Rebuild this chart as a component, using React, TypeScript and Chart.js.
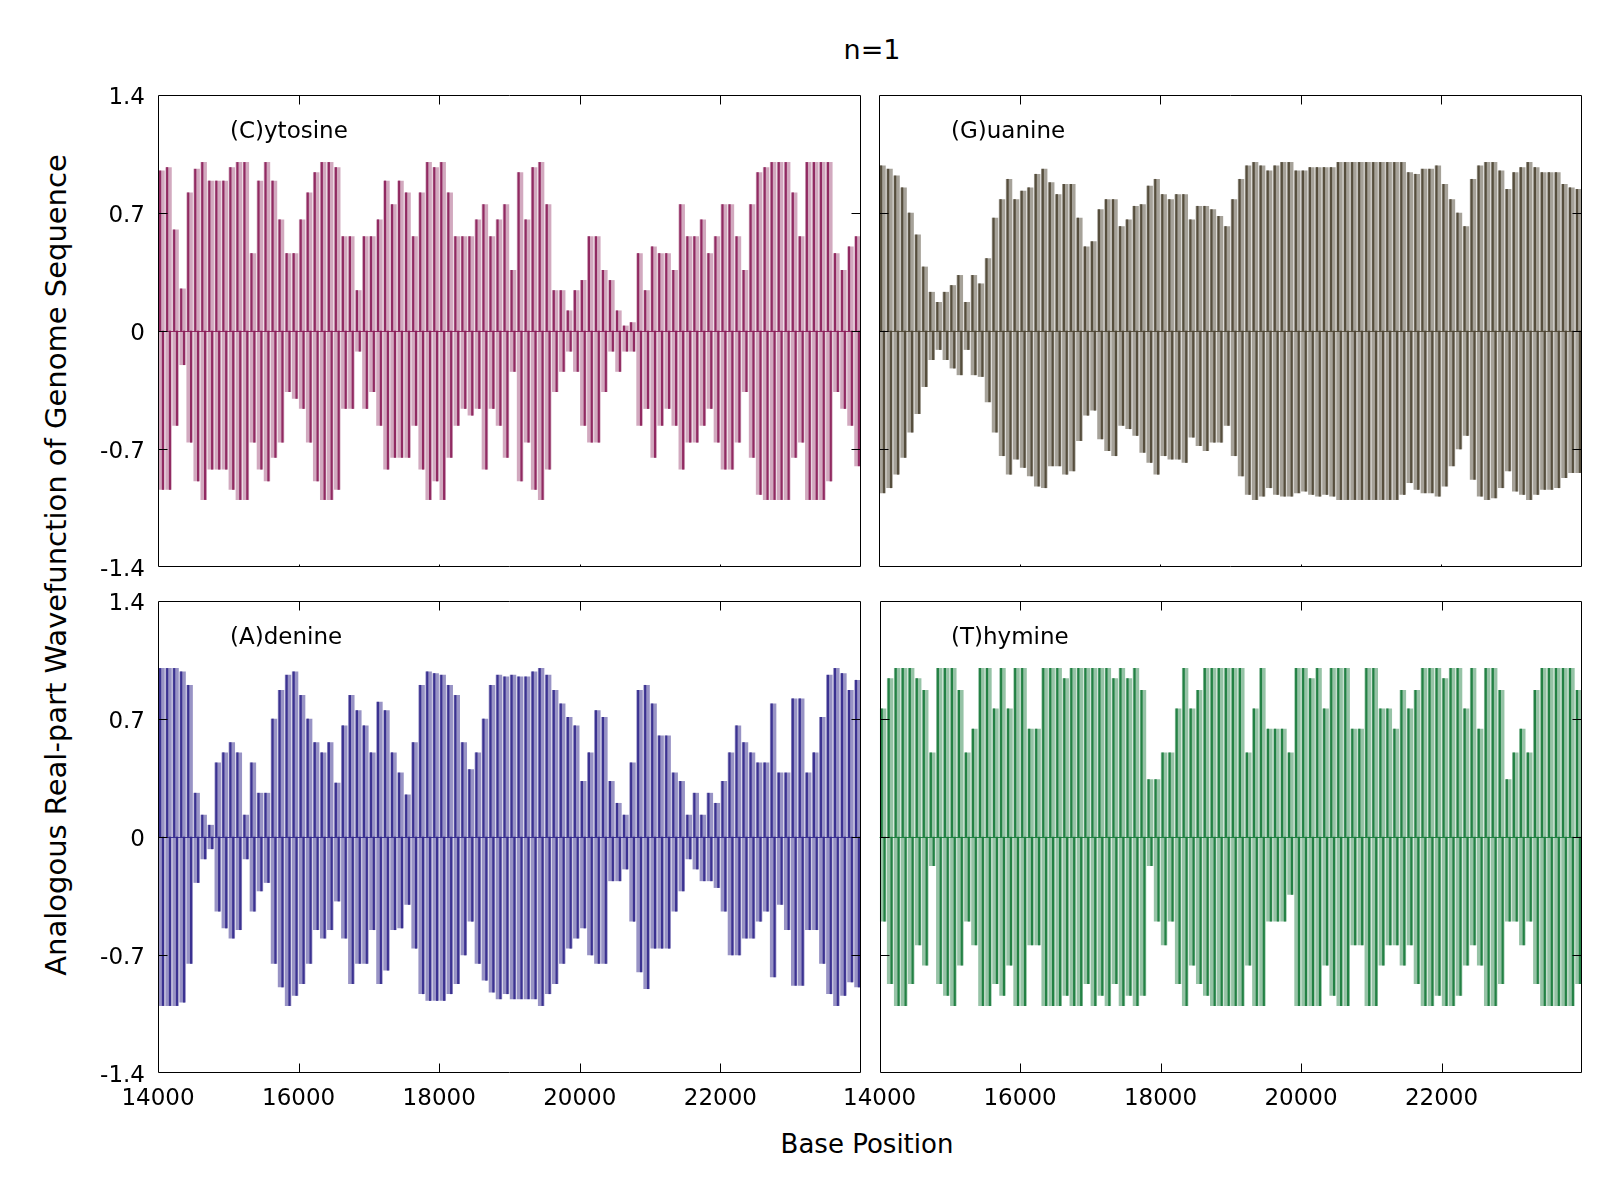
import { useEffect, useRef } from "react";
import { Chart, registerables } from "chart.js";

Chart.register(...registerables);

// one sample every 100 bp, starting at base 14000 (100 samples per panel)
const BASE_START = 14000;
const BASE_STEP = 100;
const X_MIN = 14000;
const X_MAX = 24000;

const xTickValues = [14000, 16000, 18000, 20000, 22000];
const yTickValues = [-1.4, -0.7, 0, 0.7, 1.4];

// upper / lower envelope of the impulses inside each 100 bp window
const cytosineHi = [
  0.95, 0.97, 0.6, 0.25, 0.82, 0.96, 1.0, 0.89, 0.89, 0.89,
  0.97, 1.0, 1.0, 0.46, 0.89, 1.0, 0.89, 0.66, 0.46, 0.46,
  0.66, 0.82, 0.94, 1.0, 1.0, 0.97, 0.56, 0.56, 0.24, 0.56,
  0.56, 0.66, 0.89, 0.75, 0.89, 0.82, 0.56, 0.82, 1.0, 0.97,
  1.0, 0.82, 0.56, 0.56, 0.56, 0.66, 0.75, 0.56, 0.66, 0.75,
  0.36, 0.94, 0.66, 0.97, 1.0, 0.75, 0.24, 0.24, 0.12, 0.24,
  0.3, 0.56, 0.56, 0.36, 0.3, 0.12, 0.03, 0.05, 0.46, 0.24,
  0.5, 0.46, 0.46, 0.36, 0.75, 0.56, 0.56, 0.66, 0.46, 0.56,
  0.75, 0.75, 0.56, 0.36, 0.75, 0.94, 0.97, 1.0, 1.0, 1.0,
  0.82, 0.56, 1.0, 1.0, 1.0, 1.0, 0.46, 0.36, 0.5, 0.56,
];
const cytosineLo = [
  -0.94, -0.94, -0.56, -0.2, -0.66, -0.89, -1.0, -0.82, -0.82, -0.82,
  -0.94, -1.0, -1.0, -0.66, -0.82, -0.89, -0.75, -0.66, -0.36, -0.4,
  -0.46, -0.66, -0.89, -1.0, -1.0, -0.94, -0.46, -0.46, -0.12, -0.46,
  -0.36, -0.56, -0.82, -0.75, -0.75, -0.75, -0.56, -0.82, -1.0, -0.89,
  -1.0, -0.75, -0.56, -0.46, -0.5, -0.46, -0.82, -0.46, -0.56, -0.75,
  -0.24, -0.89, -0.66, -0.94, -1.0, -0.82, -0.36, -0.24, -0.12, -0.24,
  -0.56, -0.66, -0.66, -0.36, -0.12, -0.24, -0.12, -0.12, -0.56, -0.46,
  -0.75, -0.56, -0.46, -0.56, -0.82, -0.66, -0.66, -0.56, -0.46, -0.66,
  -0.82, -0.82, -0.66, -0.36, -0.75, -0.97, -1.0, -1.0, -1.0, -1.0,
  -0.75, -0.66, -1.0, -1.0, -1.0, -0.89, -0.36, -0.46, -0.56, -0.8,
];

const guanineHi = [
  0.98, 0.96, 0.92, 0.85, 0.7, 0.57, 0.38, 0.23, 0.17, 0.23,
  0.27, 0.33, 0.17, 0.33, 0.28, 0.43, 0.67, 0.78, 0.9, 0.78,
  0.83, 0.85, 0.93, 0.96, 0.88, 0.81, 0.87, 0.87, 0.67, 0.5,
  0.53, 0.72, 0.78, 0.78, 0.62, 0.66, 0.74, 0.75, 0.86, 0.9,
  0.81, 0.78, 0.81, 0.81, 0.66, 0.74, 0.74, 0.72, 0.68, 0.62,
  0.78, 0.9, 0.98, 1.0, 0.98, 0.95, 0.98, 1.0, 1.0, 0.95,
  0.95, 0.97, 0.97, 0.97, 0.97, 1.0, 1.0, 1.0, 1.0, 1.0,
  1.0, 1.0, 1.0, 1.0, 1.0, 0.94, 0.93, 0.96, 0.96, 0.98,
  0.87, 0.78, 0.7, 0.62, 0.9, 0.98, 1.0, 1.0, 0.95, 0.84,
  0.94, 0.97, 1.0, 0.97, 0.94, 0.94, 0.94, 0.87, 0.85, 0.84,
];
const guanineLo = [
  -0.96, -0.93, -0.85, -0.75, -0.6, -0.49, -0.33, -0.17, -0.11, -0.17,
  -0.22, -0.26, -0.11, -0.26, -0.27, -0.42, -0.6, -0.74, -0.85, -0.76,
  -0.81, -0.86, -0.92, -0.93, -0.8, -0.8, -0.85, -0.83, -0.65, -0.5,
  -0.47, -0.64, -0.71, -0.74, -0.56, -0.58, -0.62, -0.72, -0.78, -0.85,
  -0.74, -0.76, -0.76, -0.78, -0.63, -0.68, -0.71, -0.66, -0.66, -0.56,
  -0.74, -0.86, -0.97, -1.0, -0.98, -0.93, -0.97, -0.98, -0.98, -0.96,
  -0.95, -0.97, -0.98, -0.97, -0.98, -1.0, -1.0, -1.0, -1.0, -1.0,
  -1.0, -1.0, -1.0, -1.0, -0.97, -0.9, -0.94, -0.96, -0.96, -0.98,
  -0.92, -0.8, -0.7, -0.62, -0.88, -0.98, -1.0, -0.99, -0.93, -0.83,
  -0.95, -0.97, -1.0, -0.97, -0.94, -0.94, -0.93, -0.87, -0.84, -0.84,
];

const adenineHi = [
  1.0, 1.0, 1.0, 0.98, 0.9, 0.26, 0.13, 0.07, 0.44, 0.5,
  0.56, 0.5, 0.13, 0.44, 0.26, 0.26, 0.7, 0.87, 0.96, 0.98,
  0.84, 0.7, 0.56, 0.5, 0.56, 0.32, 0.66, 0.84, 0.75, 0.66,
  0.5, 0.8, 0.75, 0.5, 0.38, 0.25, 0.56, 0.9, 0.98, 0.97,
  0.96, 0.9, 0.84, 0.56, 0.4, 0.5, 0.7, 0.9, 0.96, 0.95,
  0.96, 0.95, 0.95, 0.98, 1.0, 0.96, 0.87, 0.79, 0.71, 0.66,
  0.33, 0.5, 0.75, 0.71, 0.33, 0.2, 0.13, 0.44, 0.87, 0.9,
  0.79, 0.6, 0.6, 0.38, 0.33, 0.13, 0.26, 0.13, 0.26, 0.2,
  0.33, 0.5, 0.66, 0.56, 0.5, 0.44, 0.44, 0.79, 0.38, 0.38,
  0.82, 0.82, 0.38, 0.5, 0.71, 0.96, 1.0, 0.97, 0.87, 0.93,
];
const adenineLo = [
  -1.0, -1.0, -1.0, -0.98, -0.75, -0.27, -0.13, -0.07, -0.44, -0.54,
  -0.6, -0.55, -0.13, -0.44, -0.32, -0.27, -0.75, -0.89, -1.0, -0.94,
  -0.87, -0.75, -0.55, -0.6, -0.55, -0.38, -0.6, -0.87, -0.75, -0.75,
  -0.55, -0.87, -0.79, -0.55, -0.54, -0.4, -0.66, -0.93, -0.97, -0.97,
  -0.97, -0.93, -0.87, -0.7, -0.5, -0.75, -0.85, -0.92, -0.96, -0.93,
  -0.96, -0.96, -0.96, -0.96, -1.0, -0.93, -0.87, -0.75, -0.66, -0.6,
  -0.54, -0.7, -0.75, -0.75, -0.26, -0.26, -0.19, -0.5, -0.8, -0.9,
  -0.66, -0.66, -0.66, -0.44, -0.32, -0.13, -0.19, -0.26, -0.26, -0.3,
  -0.44, -0.7, -0.7, -0.6, -0.6, -0.5, -0.44, -0.83, -0.4, -0.55,
  -0.88, -0.88, -0.55, -0.55, -0.75, -0.93, -1.0, -0.94, -0.86, -0.89,
];

const thymineHi = [
  0.76, 0.94, 1.0, 1.0, 1.0, 0.94, 0.87, 0.5, 1.0, 1.0,
  1.0, 0.87, 0.5, 0.64, 1.0, 1.0, 0.76, 1.0, 0.76, 1.0,
  1.0, 0.64, 0.64, 1.0, 1.0, 1.0, 0.94, 1.0, 1.0, 1.0,
  1.0, 1.0, 1.0, 0.94, 1.0, 0.94, 1.0, 0.87, 0.34, 0.34,
  0.5, 0.5, 0.76, 1.0, 0.76, 0.87, 1.0, 1.0, 1.0, 1.0,
  1.0, 1.0, 0.5, 0.76, 1.0, 0.64, 0.64, 0.64, 0.5, 1.0,
  1.0, 0.94, 1.0, 0.76, 1.0, 1.0, 1.0, 0.64, 0.64, 1.0,
  1.0, 0.76, 0.76, 0.64, 0.87, 0.76, 0.87, 1.0, 1.0, 1.0,
  0.94, 1.0, 1.0, 0.76, 1.0, 0.64, 1.0, 1.0, 0.87, 0.34,
  0.5, 0.64, 0.5, 0.87, 1.0, 1.0, 1.0, 1.0, 1.0, 0.87,
];
const thymineLo = [
  -0.5, -0.87, -1.0, -1.0, -0.87, -0.64, -0.76, -0.17, -0.87, -0.94,
  -1.0, -0.76, -0.5, -0.64, -1.0, -1.0, -0.87, -0.94, -0.76, -1.0,
  -1.0, -0.64, -0.64, -1.0, -1.0, -1.0, -0.94, -1.0, -1.0, -0.87,
  -1.0, -0.94, -1.0, -0.87, -1.0, -0.94, -1.0, -0.94, -0.17, -0.5,
  -0.64, -0.5, -0.87, -1.0, -0.76, -0.87, -0.94, -1.0, -1.0, -1.0,
  -1.0, -1.0, -0.76, -1.0, -1.0, -0.5, -0.5, -0.5, -0.34, -1.0,
  -1.0, -1.0, -1.0, -0.76, -0.94, -1.0, -1.0, -0.64, -0.64, -1.0,
  -1.0, -0.76, -0.64, -0.64, -0.76, -0.64, -0.87, -1.0, -1.0, -0.94,
  -1.0, -1.0, -0.94, -0.76, -0.64, -0.76, -1.0, -1.0, -0.87, -0.5,
  -0.5, -0.64, -0.5, -0.87, -1.0, -1.0, -1.0, -1.0, -1.0, -0.87,
];

const FONT = "'DejaVu Sans', sans-serif";
const TICK_FONT = 23;

type Box = { left: number; top: number; width: number; height: number };

interface PanelProps {
  label: string;
  hi: number[];
  lo: number[];
  rgb: number[];
  shade: number;
  box: Box;
  showX: boolean;
  showY: boolean;
}

const Panel: React.FC<PanelProps> = ({ label, hi, lo, rgb, shade, box, showX, showY }) => {
  const chartRef = useRef<HTMLCanvasElement>(null);
  const mL = showY ? 75 : 48;
  const mR = 20;
  const mT = 30;
  const mB = showX ? 50 : 30;

  useEffect(() => {
    if (!chartRef.current) return;
    const ctx = chartRef.current.getContext("2d");
    if (!ctx) return;

    const rgba = (a: number) => `rgba(${rgb[0]},${rgb[1]},${rgb[2]},${a})`;
    const starts = hi.map((_, i) => BASE_START + i * BASE_STEP);
    const slotPx = (box.width * BASE_STEP) / (X_MAX - X_MIN);

    // gnuplot-like frame: border, inward ticks on all sides, zero line
    const frame = {
      id: "frame",
      afterDatasetsDraw(chart: Chart) {
        const { ctx: c, chartArea: a, scales } = chart;
        const x = scales.x;
        const y = scales.y;
        c.save();
        const zy = Math.round(y.getPixelForValue(0)) + 0.5;
        c.strokeStyle = rgba(0.9);
        c.lineWidth = 1;
        c.beginPath();
        c.moveTo(a.left, zy);
        c.lineTo(a.right, zy);
        c.stroke();

        c.strokeStyle = "#000";
        const L = Math.round(a.left) + 0.5;
        const R = Math.round(a.right) - 0.5;
        const T = Math.round(a.top) + 0.5;
        const B = Math.round(a.bottom) - 0.5;
        c.beginPath();
        c.rect(L, T, R - L, B - T);
        xTickValues.slice(1).forEach((v) => {
          const px = Math.round(x.getPixelForValue(v)) + 0.5;
          c.moveTo(px, T);
          c.lineTo(px, T + 9);
          c.moveTo(px, B);
          c.lineTo(px, B - (showX ? 9 : 2));
        });
        yTickValues.slice(1, -1).forEach((v) => {
          const py = Math.round(y.getPixelForValue(v)) + 0.5;
          c.moveTo(L, py);
          c.lineTo(L + 9, py);
          c.moveTo(R, py);
          c.lineTo(R - 9, py);
        });
        c.stroke();
        c.restore();
      },
    };

    const chart = new Chart(ctx, {
      type: "bar",
      data: {
        datasets: [
          {
            data: starts.map((s, i) => ({ x: s + BASE_STEP / 2, y: [lo[i], hi[i]] })),
            backgroundColor: rgba(shade),
            barThickness: slotPx * 0.82,
            grouped: false,
            borderWidth: 0,
          },
          {
            data: starts.map((s, i) => ({ x: s + BASE_STEP * 0.3, y: [0, hi[i]] })),
            backgroundColor: rgba(0.9),
            barThickness: 1.5,
            grouped: false,
            borderWidth: 0,
          },
          {
            data: starts.map((s, i) => ({ x: s + BASE_STEP * 0.7, y: [lo[i], 0] })),
            backgroundColor: rgba(0.9),
            barThickness: 1.5,
            grouped: false,
            borderWidth: 0,
          },
        ],
      } as any,
      options: {
        animation: false,
        responsive: true,
        maintainAspectRatio: false,
        events: [],
        layout: {
          padding: { left: showY ? 0 : mL, right: mR, top: mT, bottom: showX ? 0 : mB },
        },
        plugins: { legend: { display: false }, tooltip: { enabled: false } },
        scales: {
          x: {
            type: "linear",
            min: X_MIN,
            max: X_MAX,
            offset: false,
            display: showX,
            grid: { display: false, drawTicks: false },
            border: { display: false },
            afterBuildTicks: (s: any) => {
              s.ticks = xTickValues.map((v) => ({ value: v }));
            },
            afterFit: (s: any) => {
              s.height = showX ? mB : 0;
            },
            ticks: {
              autoSkip: false,
              maxRotation: 0,
              padding: 12,
              color: "#000",
              font: { family: FONT, size: TICK_FONT },
              callback: (v: any) => String(v),
            },
          },
          y: {
            type: "linear",
            min: -1.4,
            max: 1.4,
            display: showY,
            grid: { display: false, drawTicks: false },
            border: { display: false },
            afterBuildTicks: (s: any) => {
              s.ticks = yTickValues.map((v) => ({ value: v }));
            },
            afterFit: (s: any) => {
              s.width = showY ? mL : 0;
            },
            ticks: {
              padding: 13,
              labelOffset: 3,
              color: "#000",
              font: { family: FONT, size: TICK_FONT },
              callback: (v: any) => String(v),
            },
          },
        },
      },
      plugins: [frame],
    } as any);

    return () => {
      chart.destroy();
    };
  }, [hi, lo, rgb, shade, box, showX, showY]);

  return (
    <>
      <div
        style={{
          position: "absolute",
          left: box.left - mL,
          top: box.top - mT,
          width: box.width + mL + mR,
          height: box.height + mT + mB,
        }}
      >
        <canvas ref={chartRef} />
      </div>
      <div
        style={{
          position: "absolute",
          left: box.left + 72,
          top: box.top + 35,
          transform: "translateY(-50%)",
          font: `${TICK_FONT}px ${FONT}`,
          lineHeight: 1,
          whiteSpace: "nowrap",
        }}
      >
        {label}
      </div>
    </>
  );
};

const boxTL: Box = { left: 158, top: 95, width: 703, height: 472 };
const boxTR: Box = { left: 879, top: 95, width: 703, height: 472 };
const boxBL: Box = { left: 158, top: 601, width: 703, height: 472 };
const boxBR: Box = { left: 879, top: 601, width: 703, height: 472 };

const cytosineRgb = [138, 28, 88];
const guanineRgb = [78, 70, 52];
const adenineRgb = [50, 40, 140];
const thymineRgb = [22, 122, 58];

const textStyle = (size: number): React.CSSProperties => ({
  position: "absolute",
  font: `${size}px ${FONT}`,
  lineHeight: 1,
  whiteSpace: "nowrap",
  color: "#000",
});

export default function App() {
  return (
    <div
      style={{
        position: "absolute",
        left: 0,
        top: 0,
        width: 1600,
        height: 1200,
        background: "#fff",
        overflow: "hidden",
      }}
    >
      <div style={{ ...textStyle(27), left: 872, top: 49, transform: "translate(-50%, -50%)" }}>n=1</div>
      <Panel label="(C)ytosine" hi={cytosineHi} lo={cytosineLo} rgb={cytosineRgb} shade={0.38} box={boxTL} showX={false} showY={true} />
      <Panel label="(G)uanine" hi={guanineHi} lo={guanineLo} rgb={guanineRgb} shade={0.5} box={boxTR} showX={false} showY={false} />
      <Panel label="(A)denine" hi={adenineHi} lo={adenineLo} rgb={adenineRgb} shade={0.5} box={boxBL} showX={true} showY={true} />
      <Panel label="(T)hymine" hi={thymineHi} lo={thymineLo} rgb={thymineRgb} shade={0.45} box={boxBR} showX={true} showY={false} />
      <div style={{ ...textStyle(26), left: 867, top: 1144, transform: "translate(-50%, -50%)" }}>Base Position</div>
      <div
        style={{
          ...textStyle(29),
          left: 56,
          top: 565,
          transform: "translate(-50%, -50%) rotate(-90deg)",
        }}
      >
        Analogous Real-part Wavefunction of Genome Sequence
      </div>
    </div>
  );
}
